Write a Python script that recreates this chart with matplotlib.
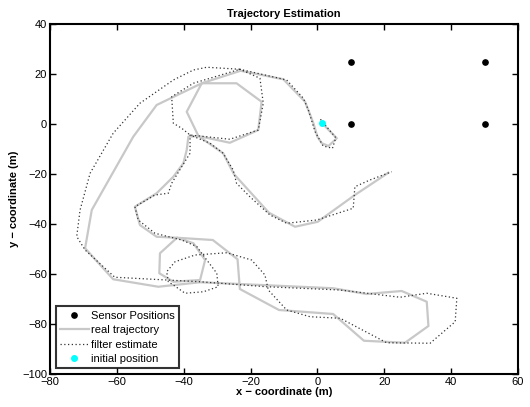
import matplotlib
matplotlib.use("Agg")
import matplotlib.pyplot as plt

plt.rcParams['font.family'] = ['Liberation Sans', 'DejaVu Sans']

# Sensor positions
sensor_x = [10, 50, 10, 50]
sensor_y = [25, 25, 0, 0]

# Initial position
init_x = [1.4]
init_y = [0.3]

# Real trajectory
real_x = [1.4, 5.8, 3.3, 1.3, 0.0, -1.2, -3.7, -10.2, -23.0, -34.6,
          -24.2, -16.7, -17.7, -26.2, -35.6, -39.1, -34.6,
          -48.1, -55.1, -67.5, -69.5, -61.1, -47.6, -35.1, 4.7, 14.7, 25.2,
          32.7, 33.2, 26.2, 13.9, 4.7, -11.5, -23.2, -23.9, -31.3, -42.0,
          -47.1, -47.3, -43.1, -35.1, -33.6, -37.1, -42.0,
          -48.1, -53.1, -54.6, -48.1, -43.1, -40.1, -39.1, -38.6, -35.6,
          -28.2, -25.0, -14.5, -6.7, 0.1, 11.2, 21.2]
real_y = [0.3, -5.7, -8.8, -7.7, -5.1, 0.3, 8.9, 17.9, 21.3, 16.3,
          16.3, 8.9, -2.4, -7.5, -4.8, 4.9, 16.3,
          7.6, -5.1, -34.4, -49.7, -62.1, -65.1, -63.3, -65.7, -68.0, -66.8,
          -71.1, -80.8, -87.5, -86.7, -76.0, -74.4, -66.0, -54.1, -46.4, -45.5,
          -51.7, -59.7, -63.1, -62.4, -54.4, -47.7, -45.5,
          -45.1, -40.4, -33.1, -27.7, -21.1, -15.7, -10.4, -5.1, -4.8,
          -11.7, -20.0, -35.5, -41.1, -39.1, -28.4, -19.5]

# Filter estimate
est_x = [0.9, 5.5, 4.5, 1.7, -0.7, -2.7, -4.2, -9.2, -23.2,
         -17.2, -16.2, -17.7, -26.2, -38.1, -40.6, -43.1, -43.6, -37.1, -23.2,
         -33.1, -37.1, -43.1, -53.1, -61.1, -68.0, -71.0, -72.0, -69.5, -60.6,
         -45.1, -35.1, -15.2, 6.7, 16.7, 24.7, 32.7, 41.7, 41.2, 33.7, 20.7,
         6.8, -2.2, -9.2, -14.7, -15.7, -19.7, -27.1, -36.6, -42.6, -45.1,
         -44.6, -43.1, -39.6, -34.1, -29.7, -30.1, -33.1, -36.1, -40.6, -48.6,
         -53.6, -54.6, -48.6, -44.6, -43.6, -40.6, -38.1, -38.1,
         -32.1, -28.2, -25.2, -24.2, -20.2, -14.2, -9.2, -0.2, 10.7, 11.2,
         15.7, 22.2]
est_y = [1.9, -5.5, -9.7, -8.8, -3.1, 5.6, 10.3, 17.6, 21.9,
         18.3, 8.3, -2.4, -6.1, -4.4, -1.7, 0.3, 10.9, 16.3, 21.9,
         22.7, 21.6, 17.6, 8.3, -3.7, -19.7, -34.4, -45.0, -50.4, -61.3,
         -62.4, -63.1, -65.1, -66.4, -68.0, -69.3, -67.7, -69.7, -79.1, -87.7, -87.5,
         -77.7, -77.1, -74.4, -66.4, -60.4, -54.4, -51.5, -52.4, -55.1, -59.1,
         -63.1, -64.4, -67.7, -67.1, -65.1, -59.7, -54.4, -49.0, -46.4, -43.7,
         -38.4, -33.1, -28.4, -27.7, -23.7, -17.1, -11.7, -4.4,
         -7.7, -11.7, -18.4, -23.7, -29.1, -36.4, -39.7, -38.4, -33.7, -25.1,
         -22.4, -19.1]

x_ticks = [-80, -60, -40, -20, 0, 20, 40, 60]
y_ticks = [-100, -80, -60, -40, -20, 0, 20, 40]

fig = plt.figure(figsize=(5.3, 4.07), dpi=100)
ax = fig.add_axes([0.0943, 0.0811, 0.8831, 0.8599])

ax.plot(sensor_x, sensor_y, 'o', color='black', markersize=3.8, linestyle='none',
        label='Sensor Positions')
ax.plot(real_x, real_y, '-', color='#c8c8c8', linewidth=1.6, label='real trajectory')
ax.plot(est_x, est_y, color='#333333', linewidth=0.9, linestyle=(0, (1, 2.0)),
        label='filter estimate')
ax.plot(init_x, init_y, 'o', color='cyan', markersize=4, linestyle='none',
        label='initial position')

ax.set_xlim(-80, 60)
ax.set_ylim(-100, 40)
ax.set_xticks(x_ticks)
ax.set_yticks(y_ticks)
ax.set_xticklabels([str(v).replace('-', '\u2212') for v in x_ticks])
ax.set_yticklabels([str(v).replace('-', '\u2212') for v in y_ticks])
ax.tick_params(direction='in', length=4, width=1, top=True, right=True,
               labelsize=8, pad=2)
for s in ax.spines.values():
    s.set_linewidth(1.5)

ax.set_title('Trajectory Estimation', fontsize=8, fontweight='bold', pad=5)
ax.set_xlabel('x \u2212 coordinate (m)', fontsize=8, fontweight='bold', labelpad=0)
ax.set_ylabel('y \u2212 coordinate (m)', fontsize=8, fontweight='bold', labelpad=2)

leg = ax.legend(loc='lower left', fontsize=8, frameon=True, fancybox=False,
                borderpad=0.4, labelspacing=0.4, handlelength=2.6,
                handletextpad=0.2, borderaxespad=0.5)
leg.get_frame().set_edgecolor('black')
leg.get_frame().set_linewidth(1.5)

fig.savefig('out.png', dpi=100)
